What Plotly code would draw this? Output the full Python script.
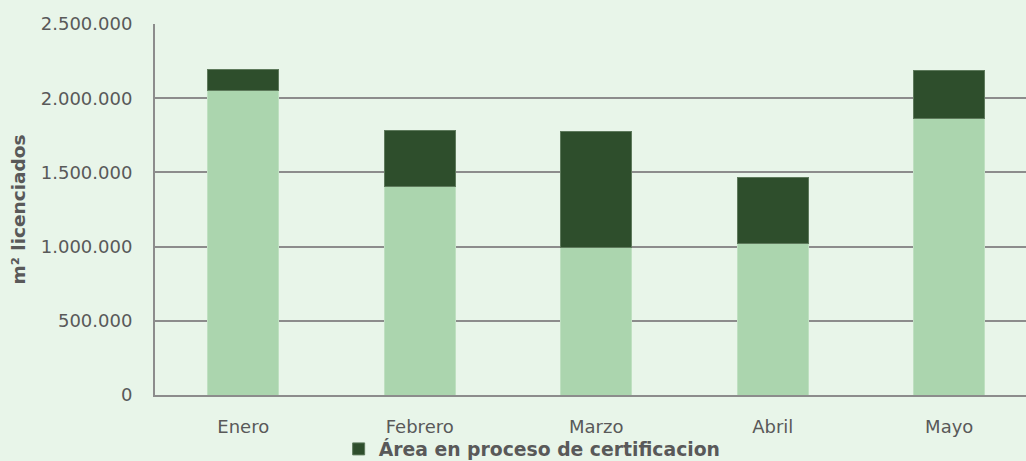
import plotly.graph_objects as go

meses = ["Enero", "Febrero", "Marzo", "Abril", "Mayo"]
area_licenciada = [2049000, 1402000, 997000, 1022000, 1860000]
area_certificacion = [146000, 382000, 780000, 445000, 328000]
y_ticks = [0, 500000, 1000000, 1500000, 2000000, 2500000]
y_ticklabels = ["0", "500.000", "1.000.000", "1.500.000", "2.000.000", "2.500.000"]

BG = "#E8F5E9"
LIGHT = "#ABD5AE"
DARK = "#2E4E2C"
GRID = "#8C8C8C"
TXT = "#595959"
FONT = "DejaVu Sans"

fig = go.Figure()
fig.add_trace(go.Bar(
    x=meses, y=area_licenciada, name="Área licenciada",
    marker=dict(color=LIGHT, line=dict(color="#BFE0C1", width=1)),
    showlegend=False,
))
fig.add_trace(go.Bar(
    x=meses, y=area_certificacion, name="Área en proceso de certificacion",
    marker=dict(color=DARK, line=dict(color="#5E7A5C", width=1)),
    showlegend=True,
))

fig.update_layout(
    width=1026, height=461,
    margin=dict(l=155, r=0, t=24, b=66, autoexpand=False),
    paper_bgcolor=BG, plot_bgcolor=BG,
    barmode="stack", bargap=0.598,
    font=dict(family=FONT, size=18, color=TXT),
    showlegend=True,
    legend=dict(
        orientation="h", x=0.433, xanchor="center", y=-0.146, yanchor="middle",
        font=dict(family=FONT, size=18.8, color=TXT, weight="bold"),
        bgcolor="rgba(0,0,0,0)", itemclick=False,
    ),
)
fig.update_xaxes(
    range=[-0.5, 4.435], showgrid=False, showline=True, linecolor=GRID, linewidth=2,
    ticks="", ticklabelstandoff=14, tickfont=dict(family=FONT, size=18, color=TXT),
)
fig.update_yaxes(
    range=[0, 2500000], tickvals=y_ticks, ticktext=y_ticklabels,
    showgrid=True, gridcolor=GRID, gridwidth=2,
    showline=True, linecolor=GRID, linewidth=2, zeroline=False,
    ticks="", ticklabelstandoff=17, tickfont=dict(family=FONT, size=18, color=TXT),
    title=dict(text="m² licenciados", standoff=10,
               font=dict(family=FONT, size=18.5, color=TXT, weight="bold")),
    automargin=False,
)

fig.write_html(
    "out.html",
    config={"displayModeBar": False},
    post_script="document.body.style.margin='0';document.body.style.overflow='hidden';",
)
